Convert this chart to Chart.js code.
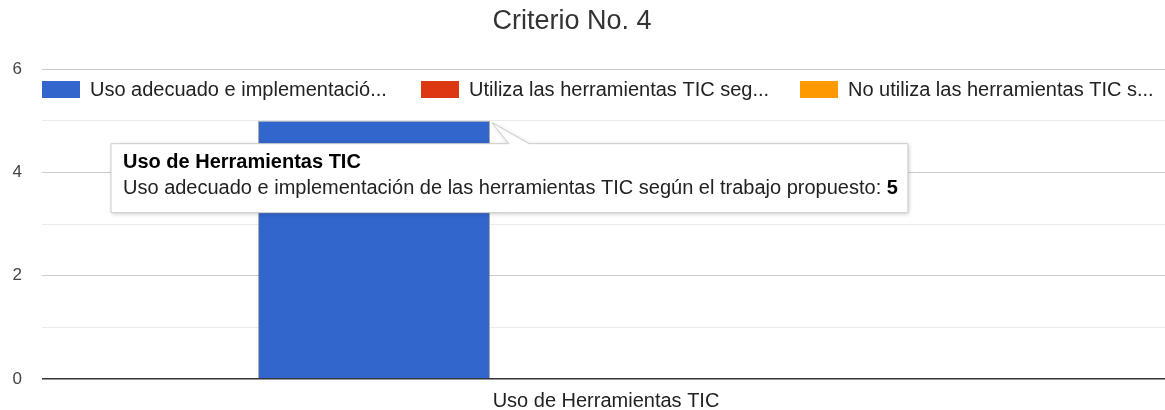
<!DOCTYPE html>
<html>
<head>
<meta charset="utf-8">
<script src="https://cdn.jsdelivr.net/npm/chart.js@4.4.1/dist/chart.umd.min.js"></script>
<style>
  body { margin: 0; background: #fff; }
</style>
</head>
<body>
<canvas id="barChart" width="1165" height="410"></canvas>
<script>
const chartTitle = 'Criterio No. 4';
const categories = ['Uso de Herramientas TIC'];
const seriesNames = [
    'Uso adecuado e implementación de las herramientas TIC según el trabajo propuesto',
    'Utiliza las herramientas TIC seg…',
    'No utiliza las herramientas TIC s…'
];
const legendLabels = ['Uso adecuado e implementació...', 'Utiliza las herramientas TIC seg...', 'No utiliza las herramientas TIC s...'];
const usoAdecuado = [5];
const utiliza = [0];
const noUtiliza = [0];
const seriesColors = ['#3366cc', '#dc3912', '#ff9900'];
const yTicks = [0, 2, 4, 6];

const FONT = 'Arial, "Liberation Sans", sans-serif';

// google-like title, legend and tooltip drawn on top
const googleBits = {
    id: 'googleBits',
    afterLayout(chart) {
        // plot runs a bit past the right edge, like the original
        const x = chart.scales.x;
        x.right += 5;
        x.width += 5;
        chart.chartArea.right += 5;
        chart.chartArea.width += 5;
        x.configure();
    },
    afterDraw(chart) {
        const c = chart.ctx;
        c.save();

        // title
        c.fillStyle = '#333';
        c.font = '27px ' + FONT;
        c.textAlign = 'center';
        c.textBaseline = 'alphabetic';
        c.fillText(chartTitle, 572, 29);

        // legend (sits over the plot)
        c.font = '20px ' + FONT;
        c.textAlign = 'left';
        c.textBaseline = 'middle';
        legendLabels.forEach((txt, i) => {
            const x = 42 + i * 379;
            c.fillStyle = seriesColors[i];
            c.fillRect(x, 81, 38, 17);
            c.fillStyle = '#222';
            c.fillText(txt, x + 48, 90);
        });

        // tooltip anchored on the first bar
        const bar = chart.getDatasetMeta(0).data[0];
        const tipX = bar.x + bar.width / 2 + 2;
        const tipY = bar.y + 2;
        const bodyFont = '20px ' + FONT;
        const boldFont = 'bold 20px ' + FONT;
        const bodyText = seriesNames[0] + ': ';
        const valText = String(usoAdecuado[0]);
        c.font = bodyFont;
        const w1 = c.measureText(bodyText).width;
        c.font = boldFont;
        const w2 = c.measureText(valText).width;
        const boxW = w1 + w2 + 22;
        const boxH = 69;
        const boxL = tipX - 381;
        const boxT = tipY + 21;

        c.beginPath();
        c.moveTo(boxL, boxT);
        c.lineTo(tipX + 17, boxT);
        c.lineTo(tipX, tipY);
        c.lineTo(tipX + 37, boxT);
        c.lineTo(boxL + boxW, boxT);
        c.lineTo(boxL + boxW, boxT + boxH);
        c.lineTo(boxL, boxT + boxH);
        c.closePath();
        c.shadowColor = 'rgba(0,0,0,0.22)';
        c.shadowBlur = 4;
        c.shadowOffsetX = 1;
        c.shadowOffsetY = 1;
        c.fillStyle = '#fff';
        c.fill();
        c.shadowColor = 'transparent';
        c.strokeStyle = '#cccccc';
        c.lineWidth = 1;
        c.stroke();

        c.fillStyle = '#000';
        c.font = boldFont;
        c.fillText(categories[0], boxL + 12, boxT + 19);
        c.fillStyle = '#222';
        c.font = bodyFont;
        c.fillText(bodyText, boxL + 12, boxT + 45);
        c.fillStyle = '#000';
        c.font = boldFont;
        c.fillText(valText, boxL + 12 + w1, boxT + 45);

        c.restore();
    }
};

new Chart(document.getElementById('barChart'), {
    type: 'bar',
    data: {
        labels: categories,
        datasets: [
            { label: seriesNames[0], data: usoAdecuado, backgroundColor: seriesColors[0], borderColor: 'rgba(70,70,70,0.45)', borderWidth: 1 },
            { label: seriesNames[1], data: utiliza, backgroundColor: seriesColors[1] },
            { label: seriesNames[2], data: noUtiliza, backgroundColor: seriesColors[2] }
        ]
    },
    options: {
        responsive: false,
        animation: false,
        categoryPercentage: 0.617,
        barPercentage: 1,
        layout: { padding: { top: 69, left: 0, right: 0, bottom: 0 } },
        plugins: {
            legend: { display: false },
            tooltip: { enabled: false },
            title: { display: false }
        },
        scales: {
            x: {
                grid: { display: false },
                border: { display: false },
                ticks: { color: '#222', font: { family: FONT, size: 20 }, padding: 2 },
                afterFit: s => { s.height = 31; }
            },
            y: {
                min: 0,
                max: 6,
                border: { display: false },
                grid: {
                    drawTicks: false,
                    color: c => c.tick.value === 0 ? '#333' : (yTicks.includes(c.tick.value) ? '#cccccc' : '#ebebeb'),
                    lineWidth: c => c.tick.value === 0 ? 1.5 : 1
                },
                ticks: {
                    stepSize: 1,
                    color: '#444',
                    padding: 20,
                    font: { family: FONT, size: 17 },
                    callback: v => yTicks.includes(v) ? v : ''
                },
                afterFit: s => { s.width = 42; }
            }
        }
    },
    plugins: [googleBits]
});
</script>
</body>
</html>
